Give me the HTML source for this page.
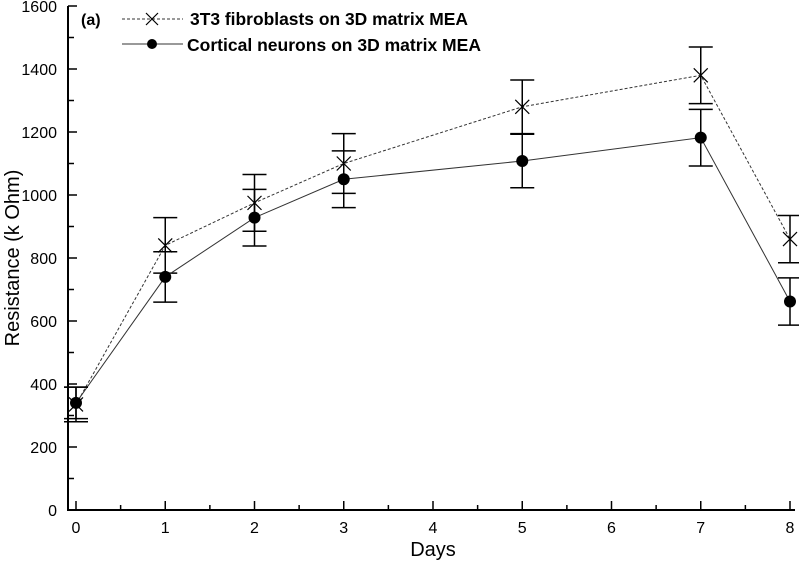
<!DOCTYPE html>
<html><head><meta charset="utf-8"><style>
body{margin:0;background:#fff}
text{font-family:"Liberation Sans",Arial,sans-serif}
</style></head><body>
<svg id="c" width="799" height="561" viewBox="0 0 799 561" xmlns="http://www.w3.org/2000/svg"></svg>
<script>
const days=[0,1,2,3,5,7,8];
const fibroVals=[335,840,975,1100,1280,1380,860];
const fibroErr=[55,88,90,95,85,90,75];
const neuroVals=[340,740,928,1050,1108,1182,662];
const neuroErr=[50,80,90,90,85,90,75];
const yTicks=[0,200,400,600,800,1000,1200,1400,1600];
const xTicks=[0,1,2,3,4,5,6,7,8];

const svg=document.getElementById('c');
const NS='http://www.w3.org/2000/svg';
const X=d=>76+d*89.25;
const Y=v=>510-v*0.315;
function mk(t,a,p){const e=document.createElementNS(NS,t);for(const k in a)e.setAttribute(k,a[k]);(p||svg).appendChild(e);return e;}

const axes=mk('g',{});


mk('line',{x1:68,y1:Y(1600),x2:68,y2:511,stroke:'#000','stroke-width':2},axes);
mk('line',{x1:67,y1:510,x2:795,y2:510,stroke:'#000','stroke-width':2},axes);
yTicks.forEach((v,i)=>{
  mk('line',{x1:68,y1:Y(v),x2:77,y2:Y(v),stroke:'#000','stroke-width':1.5},axes);
  if(i<yTicks.length-1) mk('line',{x1:68,y1:Y(v+100),x2:74,y2:Y(v+100),stroke:'#000','stroke-width':1.5},axes);
  const t=mk('text',{x:57,y:Y(v)+6,'text-anchor':'end','font-size':16},axes);
  t.textContent=v;
  
  
});
xTicks.forEach((d,i)=>{
  mk('line',{x1:X(d),y1:510,x2:X(d),y2:501,stroke:'#000','stroke-width':1.5},axes);
  if(i<xTicks.length-1) mk('line',{x1:X(d+0.5),y1:510,x2:X(d+0.5),y2:505,stroke:'#000','stroke-width':1.5},axes);
  const t=mk('text',{x:X(d),y:533,'text-anchor':'middle','font-size':16},axes);
  t.textContent=d;
  
  
});
const xt=mk('text',{x:433,y:556,'text-anchor':'middle','font-size':20});
xt.textContent='Days';


const yt=mk('text',{x:0,y:0,'text-anchor':'middle','font-size':20,transform:'translate(19,258) rotate(-90)'});
yt.textContent='Resistance (k Ohm)';



function series(vals,err,dash,name,marker){
  const g=mk('g',{});
  
  
  let d='';
  vals.forEach((v,i)=>{d+=(i?'L':'M')+X(days[i])+','+Y(v);});
  mk('path',{d:d,fill:'none',stroke:'#333','stroke-width':1,'stroke-dasharray':dash},g);
  vals.forEach((v,i)=>{
    const x=X(days[i]);
    const e=mk('path',{d:`M${x},${Y(v+err[i])}V${Y(v-err[i])}M${x-12},${Y(v+err[i])}h24M${x-12},${Y(v-err[i])}h24`,stroke:'#000','stroke-width':1.5,fill:'none'},g);
    
    
    const y=Y(v);
    let m;
    if(marker==='x'){
      m=mk('path',{d:`M${x-7},${y-7}L${x+7},${y+7}M${x-7},${y+7}L${x+7},${y-7}`,stroke:'#000','stroke-width':1.2},g);
    } else {
      m=mk('circle',{cx:x,cy:y,r:6,fill:'#000'},g);
    }
    
    
  });
}
series(fibroVals,fibroErr,'3,2','series-fibroblasts','x');
series(neuroVals,neuroErr,'none','series-neurons','o');

const lg=mk('g',{});


const pa=mk('text',{x:81,y:25,'font-size':16,'font-weight':'bold'},lg);
pa.textContent='(a)';
mk('line',{x1:122,y1:19,x2:183,y2:19,stroke:'#333','stroke-dasharray':'3,2'},lg);
mk('path',{d:'M146,13L158,25M146,25L158,13',stroke:'#000','stroke-width':1.2},lg);
const l1=mk('text',{x:190,y:25,'font-size':17.5,'font-weight':'bold',textLength:278,lengthAdjust:'spacingAndGlyphs'},lg);
l1.textContent='3T3 fibroblasts on 3D matrix MEA';
mk('line',{x1:122,y1:44,x2:183,y2:44,stroke:'#333'},lg);
mk('circle',{cx:152,cy:44,r:5,fill:'#000'},lg);
const l2=mk('text',{x:187,y:51,'font-size':17.5,'font-weight':'bold',textLength:294,lengthAdjust:'spacingAndGlyphs'},lg);
l2.textContent='Cortical neurons on 3D matrix MEA';
</script>
</body></html>
